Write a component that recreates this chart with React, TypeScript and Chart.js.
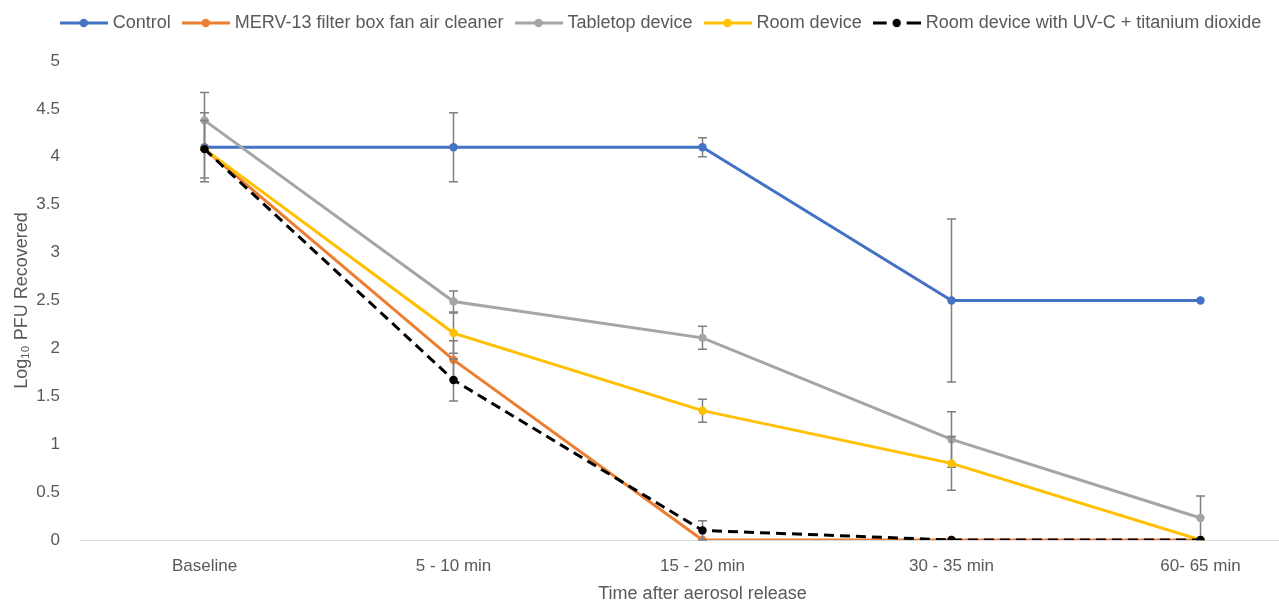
import React, { useEffect, useRef } from 'react';
import { Chart, registerables } from 'chart.js';

Chart.register(...registerables);

// ---- data ----
const categories = ['Baseline', '5 - 10 min', '15 - 20 min', '30 - 35 min', '60- 65 min'];
const seriesNames = [
  'Control',
  'MERV-13 filter box fan air cleaner',
  'Tabletop device',
  'Room device',
  'Room device with UV-C + titanium dioxide',
];
const controlValues = [4.1, 4.1, 4.1, 2.5, 2.5];
const mervValues = [4.08, 1.88, 0, 0, 0];
const tabletopValues = [4.38, 2.49, 2.11, 1.05, 0.23];
const roomValues = [4.08, 2.16, 1.35, 0.8, 0];
const uvValues = [4.08, 1.67, 0.1, 0, 0];

const controlErrors = [0.36, 0.36, 0.1, 0.85, 0];
const mervErrors = [0, 0.2, 0, 0, 0];
const tabletopErrors = [0.29, 0.11, 0.12, 0.29, 0.23];
const roomErrors = [0.3, 0.21, 0.12, 0.28, 0];
const uvErrors = [0, 0.22, 0.1, 0, 0];

const yMin = 0;
const yMax = 5;
const yStep = 0.5;

const xTitle = 'Time after aerosol release';
const yTitle = 'Log\u2081\u2080 PFU Recovered';

// ---- styles ----
const colors = ['#4472C4', '#ED7D31', '#A5A5A5', '#FFC000', '#000000'];
const textColor = '#595959';
const fontFamily = "'Liberation Sans', Arial, sans-serif";

function makeLegendImage(color: string, dashed: boolean): HTMLCanvasElement {
  const c = document.createElement('canvas');
  c.width = 48;
  c.height = 12;
  const g = c.getContext('2d')!;
  g.strokeStyle = color;
  g.fillStyle = color;
  g.lineWidth = 3;
  g.lineCap = 'butt';
  g.beginPath();
  if (dashed) {
    g.moveTo(0, 6);
    g.lineTo(14, 6);
    g.moveTo(34, 6);
    g.lineTo(48, 6);
  } else {
    g.moveTo(0, 6);
    g.lineTo(48, 6);
  }
  g.stroke();
  g.beginPath();
  g.arc(24, 6, 4.2, 0, Math.PI * 2);
  g.fill();
  return c;
}

const errorBarPlugin = {
  id: 'errorBars',
  beforeDatasetDraw(chart: any, args: any) {
    const ds = chart.data.datasets[args.index];
    const errs: number[] | undefined = ds.errors;
    if (!errs) return;
    const yScale = chart.scales.y;
    const ctx = chart.ctx;
    const area = chart.chartArea;
    ctx.save();
    ctx.beginPath();
    ctx.rect(area.left, area.top - 1, area.right - area.left, area.bottom - area.top + 2);
    ctx.clip();
    ctx.strokeStyle = '#7F7F7F';
    ctx.lineWidth = 1.5;
    ctx.setLineDash([]);
    args.meta.data.forEach((pt: any, i: number) => {
      const e = errs[i];
      if (!e) return;
      const v = ds.data[i] as number;
      const top = yScale.getPixelForValue(v + e);
      const bot = yScale.getPixelForValue(v - e);
      const x = pt.x;
      const hw = 4.5;
      ctx.beginPath();
      ctx.moveTo(x, top);
      ctx.lineTo(x, bot);
      ctx.moveTo(x - hw, top);
      ctx.lineTo(x + hw, top);
      ctx.moveTo(x - hw, bot);
      ctx.lineTo(x + hw, bot);
      ctx.stroke();
    });
    ctx.restore();
  },
};

export default function App() {
  const canvasRef = useRef<HTMLCanvasElement>(null);

  useEffect(() => {
    let chart: Chart | null = null;
    let cancelled = false;

    const build = () => {
      if (cancelled || !canvasRef.current) return;
      const valuesList = [controlValues, mervValues, tabletopValues, roomValues, uvValues];
      const errorsList = [controlErrors, mervErrors, tabletopErrors, roomErrors, uvErrors];
      const legendImgs = colors.map((c, i) => makeLegendImage(c, i === 4));

      const datasets = valuesList.map((vals, i) => ({
        label: seriesNames[i],
        data: vals,
        errors: errorsList[i],
        borderColor: colors[i],
        backgroundColor: colors[i],
        borderWidth: 3,
        borderDash: i === 4 ? [10, 6] : [],
        pointRadius: 4.2,
        pointBorderWidth: 0,
        pointBackgroundColor: colors[i],
        pointHoverRadius: 4.2,
        tension: 0,
        fill: false,
        order: 5 - i,
      }));

      chart = new Chart(canvasRef.current, {
        type: 'line',
        data: { labels: categories, datasets: datasets as any },
        plugins: [errorBarPlugin],
        options: {
          responsive: false,
          animation: false,
          font: { family: fontFamily },
          layout: { padding: { top: -1, right: 9, bottom: 0, left: 0 } },
          plugins: {
            legend: {
              display: true,
              position: 'top',
              labels: {
                usePointStyle: true,
                pointStyleWidth: 40,
                padding: 15,
                color: textColor,
                font: { size: 18, family: fontFamily },
                generateLabels: (ch: any) =>
                  ch.data.datasets.map((ds: any, i: number) => ({
                    text: ds.label,
                    fillStyle: colors[i],
                    strokeStyle: colors[i],
                    lineWidth: 0,
                    pointStyle: legendImgs[i],
                    hidden: false,
                    datasetIndex: i,
                    fontColor: textColor,
                  })),
              },
            },
            title: {
              display: true,
              text: '',
              weight: 500,
              font: { size: 1, lineHeight: 1 },
              padding: { top: 18, bottom: 0 },
            } as any,
            tooltip: { enabled: false },
          },
          scales: {
            x: {
              type: 'category',
              offset: true,
              grid: { display: false, drawTicks: false },
              border: { display: true, color: '#D9D9D9', width: 1 },
              ticks: {
                color: textColor,
                font: { size: 17, family: fontFamily },
                padding: 16,
                maxRotation: 0,
                autoSkip: false,
              },
              title: {
                display: true,
                text: xTitle,
                color: textColor,
                font: { size: 18, family: fontFamily },
                padding: { top: 0, bottom: 0 },
              },
              afterFit: (s: any) => {
                s.height = 65;
              },
            },
            y: {
              min: yMin,
              max: yMax,
              grid: { display: false, drawTicks: false },
              border: { display: false },
              ticks: {
                stepSize: yStep,
                color: textColor,
                font: { size: 17, family: fontFamily },
                padding: 20,
                callback: (v: any) => String(Math.round(Number(v) * 10) / 10),
              },
              title: {
                display: true,
                text: yTitle,
                color: textColor,
                font: { size: 18, family: fontFamily },
                padding: { top: 11, bottom: 0 },
              },
              afterFit: (s: any) => {
                s.width = 80;
              },
            },
          },
        } as any,
      });
    };

    const f: any = (document as any).fonts;
    if (f && f.load) {
      Promise.all([f.load("18px 'Liberation Sans'"), f.load("17px 'Liberation Sans'")]).then(build, build);
    } else {
      build();
    }

    return () => {
      cancelled = true;
      if (chart) chart.destroy();
    };
  }, []);

  return (
    <div
      style={{
        position: 'fixed',
        left: 0,
        top: 0,
        width: 1279,
        height: 605,
        overflow: 'hidden',
        background: '#ffffff',
      }}
    >
      <canvas ref={canvasRef} width={1334} height={605} style={{ display: 'block', width: 1334, height: 605 }} />
    </div>
  );
}
